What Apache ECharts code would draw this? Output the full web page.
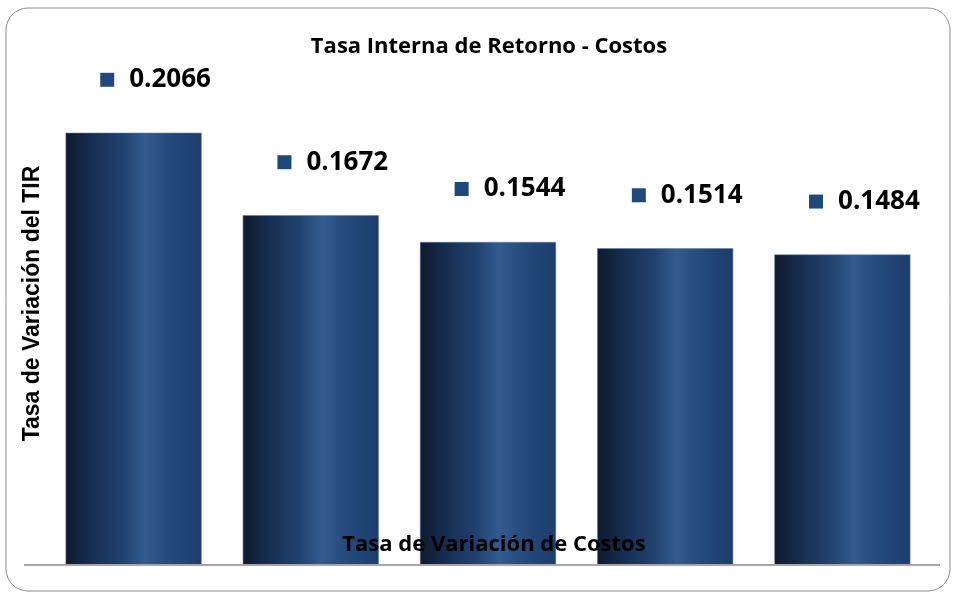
<!DOCTYPE html>
<html><head><meta charset="utf-8">
<script src="https://cdn.jsdelivr.net/npm/echarts@6/dist/echarts.min.js"></script>
<style>html,body{margin:0;padding:0;background:#fff}#c{width:954px;height:592px}</style>
</head><body><div id="c"></div>
<script>
var categories = ['1', '2', '3', '4', '5'];
var tirValues = [0.2066, 0.1672, 0.1544, 0.1514, 0.1484];
var titleText = 'Tasa Interna de Retorno - Costos';
var xName = 'Tasa de Variación de Costos';
var yName = 'Tasa de Variación del TIR';

var chart = echarts.init(document.getElementById('c'));
var barGrad = new echarts.graphic.LinearGradient(0, 0, 1, 0, [
  {offset: 0, color: '#0e1a2e'},
  {offset: 0.2, color: '#172e52'},
  {offset: 0.42, color: '#21426f'},
  {offset: 0.58, color: '#335b8e'},
  {offset: 0.78, color: '#23487a'},
  {offset: 1, color: '#1d3e6c'}
]);
chart.setOption({
  animation: false,
  title: {
    text: titleText, left: 484, top: 31, textAlign: 'center',
    textStyle: {fontFamily: 'Open Sans', fontWeight: 'bold', fontSize: 22, color: '#000'}
  },
  grid: {left: 45, width: 886, top: 42, bottom: 27},
  xAxis: {
    type: 'category', data: categories, z: 10,
    axisLabel: {show: false}, axisTick: {show: false}, axisLine: {show: false},
    name: xName, nameLocation: 'middle', nameGap: -31,
    nameTextStyle: {fontFamily: 'Open Sans', fontWeight: 'bold', fontSize: 22, color: '#000', padding: [0, 0, 0, 12]}
  },
  yAxis: {
    type: 'value', min: 0, max: 0.25,
    axisLabel: {show: false}, axisTick: {show: false}, axisLine: {show: false}, splitLine: {show: false},
    name: yName, nameLocation: 'middle', nameGap: 1, nameRotate: 90,
    nameTextStyle: {fontFamily: 'Liberation Sans', fontWeight: 'bold', fontSize: 23, color: '#000'}
  },
  series: [{
    type: 'bar', data: tirValues, barWidth: 136,
    itemStyle: {color: barGrad, borderColor: '#5f7aa0', borderWidth: 0.5},
    label: {
      show: true, position: 'top', distance: 0, offset: [22, -40],
      formatter: function (p) { return '{sq|}{gap|}{v|' + p.value.toFixed(4) + '}'; },
      rich: {
        sq: {width: 14, height: 14, backgroundColor: '#1f497d'},
        gap: {width: 15},
        v: {fontFamily: 'Open Sans', fontWeight: 'bold', fontSize: 26, color: '#000'}
      }
    }
  }],
  graphic: [
    {type: 'rect', shape: {x: 6, y: 8, width: 944, height: 583, r: 22}, style: {fill: 'none', stroke: '#8c8c8c', lineWidth: 1}, z: -1},
    {type: 'line', shape: {x1: 24, y1: 565, x2: 940, y2: 565}, style: {stroke: '#a6a6a6', lineWidth: 2}, z: 10}
  ]
});
</script></body></html>
